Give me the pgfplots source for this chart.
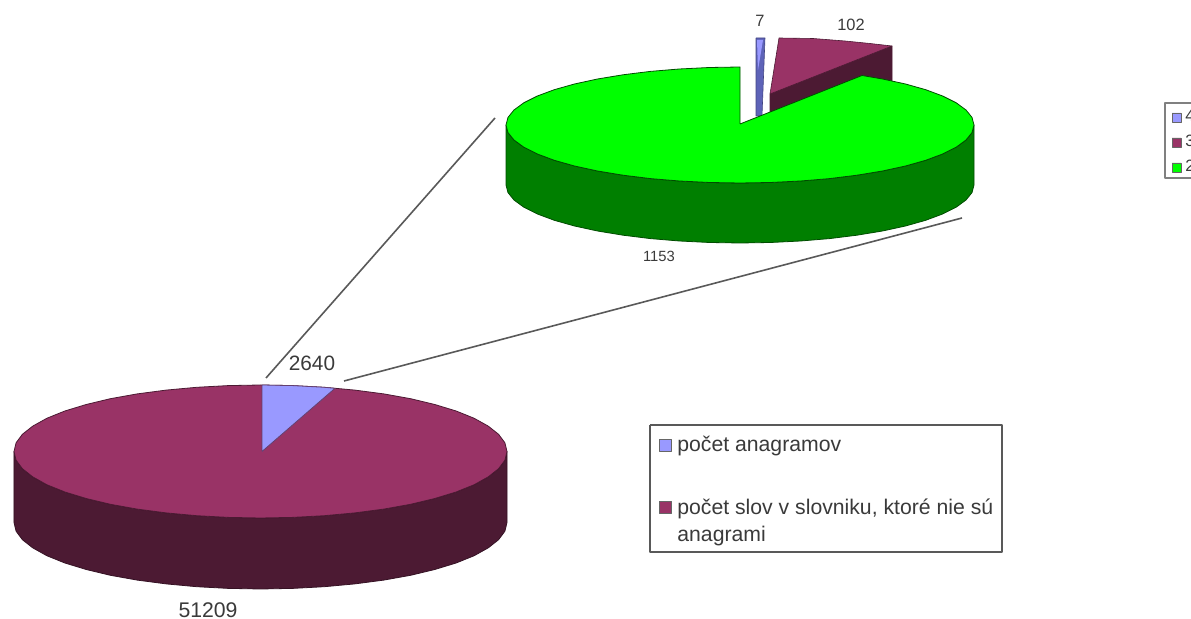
\documentclass[border=0pt]{standalone}
\usepackage{pgfplots}
\pgfplotsset{compat=1.18}
\usepackage{fontspec}
\setmainfont{Liberation Sans}
\definecolor{lila}{HTML}{9999FF}
\definecolor{bordo}{HTML}{993366}
\definecolor{bordodark}{HTML}{4C1A33}
\definecolor{zelena}{HTML}{00FF00}
\definecolor{zelenadark}{HTML}{007F00}
\definecolor{modra}{HTML}{5E63B8}
\definecolor{txt}{HTML}{3A3A3A}
\tikzset{lab/.style={font=\fontsize{8.2pt}{10pt}\selectfont, text=txt, inner sep=0pt}}
\begin{document}
\begin{tikzpicture}
\clip[use as bounding box] (0,0) rectangle (595.5pt,309.5pt);
\begin{axis}[
  at={(0pt,0pt)}, anchor=south west,
  scale only axis, width=595.5pt, height=309.5pt,
  xmin=0, xmax=1191, ymin=0, ymax=619, y dir=reverse,
  hide axis,
  every axis plot/.append style={mark=none, line join=round},
]
% connector lines between the two pies
\addplot[color=black!65, line width=0.8pt] coordinates {(266,378) (495,118)};
\addplot[color=black!65, line width=0.8pt] coordinates {(344,381) (962,218)};

% lower pie: side wall
\addplot[fill=bordodark, draw=bordodark!70!black, line width=0.4pt] coordinates {
 (14,451.5) (16.1,460.2) (22.4,468.7) (32.8,476.9) (47,484.8) (64.9,492) (86.2,498.5) (110.4,504.3)
 (137.2,509.1) (166.2,512.9) (196.7,515.7) (228.3,517.4) (260.5,518) (292.7,517.4) (324.3,515.7)
 (354.8,512.9) (383.8,509.1) (410.6,504.3) (434.8,498.5) (456.1,492) (474,484.8) (488.2,476.9)
 (498.6,468.7) (504.9,460.2) (507,451.5)
 (507,522.5) (504.9,531.2) (498.6,539.7) (488.2,547.9) (474,555.8) (456.1,563) (434.8,569.5) (410.6,575.3)
 (383.8,580.1) (354.8,583.9) (324.3,586.7) (292.7,588.4) (260.5,589) (228.3,588.4) (196.7,586.7)
 (166.2,583.9) (137.2,580.1) (110.4,575.3) (86.2,569.5) (64.9,563) (47,555.8) (32.8,547.9)
 (22.4,539.7) (16.1,531.2) (14,522.5) (14,451.5)};
% lower pie: top face
\addplot[fill=bordo, draw=bordodark, line width=0.4pt] coordinates {
 (507,451.5) (504.9,442.8) (498.6,434.3) (488.2,426.1) (474,418.2) (456.1,411) (434.8,404.5) (410.6,398.7)
 (383.8,393.9) (354.8,390.1) (324.3,387.3) (292.7,385.6) (260.5,385) (228.3,385.6) (196.7,387.3)
 (166.2,390.1) (137.2,393.9) (110.4,398.7) (86.2,404.5) (64.9,411) (47,418.2) (32.8,426.1)
 (22.4,434.3) (16.1,442.8) (14,451.5) (16.1,460.2) (22.4,468.7) (32.8,476.9) (47,484.8) (64.9,492)
 (86.2,498.5) (110.4,504.3) (137.2,509.1) (166.2,512.9) (196.7,515.7) (228.3,517.4) (260.5,518)
 (292.7,517.4) (324.3,515.7) (354.8,512.9) (383.8,509.1) (410.6,504.3) (434.8,498.5) (456.1,492)
 (474,484.8) (488.2,476.9) (498.6,468.7) (504.9,460.2) (507,451.5)};
% lower pie: anagram wedge
\addplot[fill=lila, draw=bordodark!70!lila, line width=0.4pt] coordinates {
 (262,451.5) (262,385) (292.7,385.6) (324.3,387.3) (335,388.3) (262,451.5)};

% upper pie: detached slices behind the green one
\addplot[fill=bordodark, draw=bordodark, line width=0.3pt] coordinates {
 (892,46) (892,90) (770,116) (770,94) (892,46)};
\addplot[fill=bordo, draw=bordodark, line width=0.3pt] coordinates {
 (770,94) (779,38) (813,38.5) (845,41) (870,43.5) (892,46) (770,94)};
\addplot[fill=modra, draw=modra!70!black, line width=0.3pt] coordinates {
 (756,38) (765,38) (762,116) (756,116) (756,38)};
\addplot[fill=lila, draw=none] coordinates {
 (757,40) (763,40) (758,70) (757,40)};

% upper pie: side wall
\addplot[fill=zelenadark, draw=zelenadark!60!black, line width=0.4pt] coordinates {
 (506,125) (508,132.6) (514,140) (523.8,147.2) (537.4,154) (554.3,160.3) (574.5,166) (597.5,171)
 (623,175.2) (650.4,178.6) (679.4,181) (709.5,182.5) (740,183) (770.5,182.5) (800.6,181)
 (829.6,178.6) (857,175.2) (882.5,171) (905.5,166) (925.7,160.3) (942.6,154) (956.2,147.2)
 (966,140) (972,132.6) (974,125)
 (974,185) (972,192.6) (966,200) (956.2,207.2) (942.6,214) (925.7,220.3) (905.5,226) (882.5,231)
 (857,235.2) (829.6,238.6) (800.6,241) (770.5,242.5) (740,243) (709.5,242.5) (679.4,241)
 (650.4,238.6) (623,235.2) (597.5,231) (574.5,226) (554.3,220.3) (537.4,214) (523.8,207.2)
 (514,200) (508,192.6) (506,185) (506,125)};
% upper pie: top face with the gap at twelve o'clock
\addplot[fill=zelena, draw=zelenadark!60!black, line width=0.4pt] coordinates {
 (740,124) (862,75.5) (882.5,79) (905.5,84) (925.7,89.7) (942.6,96) (956.2,102.8) (966,110) (972,117.4)
 (974,125) (972,132.6) (966,140) (956.2,147.2) (942.6,154) (925.7,160.3) (905.5,166) (882.5,171)
 (857,175.2) (829.6,178.6) (800.6,181) (770.5,182.5) (740,183) (709.5,182.5) (679.4,181)
 (650.4,178.6) (623,175.2) (597.5,171) (574.5,166) (554.3,160.3) (537.4,154) (523.8,147.2)
 (514,140) (508,132.6) (506,125) (508,117.4) (514,110) (523.8,102.8) (537.4,96) (554.3,89.7)
 (574.5,84) (597.5,79) (623,74.8) (650.4,71.4) (679.4,69) (709.5,67.5) (740,67) (740,124)};

% main legend
\addplot[fill=white, draw=black!65, line width=0.8pt] coordinates {
 (650,425) (1002,425) (1002,552) (650,552) (650,425)};
\addplot[fill=lila, draw=black!60, line width=0.4pt] coordinates {
 (659.5,439.5) (671.5,439.5) (671.5,451.5) (659.5,451.5) (659.5,439.5)};
\addplot[fill=bordo, draw=black!60, line width=0.4pt] coordinates {
 (659.5,501.5) (671.5,501.5) (671.5,513.5) (659.5,513.5) (659.5,501.5)};

% side legend, cut off by the edge of the page
\addplot[fill=white, draw=black!50, line width=0.6pt] coordinates {
 (1200,103) (1165,103) (1165,178) (1200,178)};
\addplot[fill=lila, draw=black!60, line width=0.3pt] coordinates {
 (1172,113) (1181,113) (1181,122) (1172,122) (1172,113)};
\addplot[fill=bordo, draw=black!60, line width=0.3pt] coordinates {
 (1172,138) (1181,138) (1181,147) (1172,147) (1172,138)};
\addplot[fill=zelena, draw=black!60, line width=0.3pt] coordinates {
 (1172,163) (1181,163) (1181,172) (1172,172) (1172,163)};

% data labels
\node[lab] at (axis cs:760,21) {7};
\node[lab] at (axis cs:851,25) {102};
\node[lab, font=\fontsize{7.4pt}{9pt}\selectfont] at (axis cs:659,256) {1153};
\node[lab, font=\fontsize{10.4pt}{12pt}\selectfont] at (axis cs:312,363) {2640};
\node[lab, font=\fontsize{10.6pt}{12pt}\selectfont] at (axis cs:208,610) {51209};

% legend entries
\node[lab, anchor=base west, font=\fontsize{10.6pt}{12pt}\selectfont] at (axis cs:677,451.5) {počet anagramov};
\node[lab, anchor=base west, font=\fontsize{10.6pt}{12pt}\selectfont] at (axis cs:677,514.5) {počet slov v slovniku, ktoré nie sú};
\node[lab, anchor=base west, font=\fontsize{10.6pt}{12pt}\selectfont] at (axis cs:677,541.5) {anagrami};
\node[lab, anchor=base west] at (axis cs:1185,122) {4};
\node[lab, anchor=base west] at (axis cs:1185,147) {3};
\node[lab, anchor=base west] at (axis cs:1185,172) {2};
\end{axis}
\end{tikzpicture}
\end{document}
